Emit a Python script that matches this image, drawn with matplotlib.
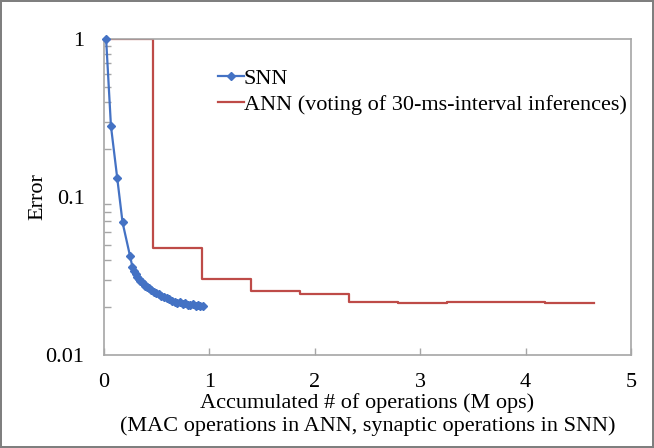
import matplotlib
matplotlib.use("Agg")
import matplotlib.pyplot as plt
from matplotlib.ticker import LogLocator, NullFormatter, FixedLocator, FixedFormatter

# ---- data ----
ann_edges = [0.0, 0.465, 0.93, 1.395, 1.86, 2.325, 2.79, 3.255, 3.72, 4.185, 4.65]
ann_error = [1.0, 0.0473, 0.0303, 0.0254, 0.0243, 0.0217, 0.0214, 0.0217, 0.0217, 0.0212]

snn_ops = [0.02, 0.066, 0.126, 0.176, 0.247, 0.27, 0.285, 0.30, 0.315, 0.33, 0.345,
           0.36, 0.375, 0.39, 0.41, 0.43, 0.45, 0.47, 0.495, 0.52, 0.545, 0.57,
           0.595, 0.62, 0.645, 0.67, 0.695, 0.72, 0.745, 0.77, 0.795, 0.82, 0.845,
           0.87, 0.895, 0.915, 0.935]
snn_error = [1.0, 0.281, 0.131, 0.069, 0.0423, 0.036, 0.034, 0.0325, 0.031, 0.0302, 0.0295,
             0.0288, 0.028, 0.0275, 0.027, 0.0264, 0.0258, 0.0252, 0.0247, 0.0242, 0.0237, 0.0233,
             0.0229, 0.0225, 0.0219, 0.0218, 0.0214, 0.0216, 0.0211, 0.0213, 0.0207, 0.0206, 0.0209,
             0.0204, 0.0206, 0.0203, 0.0205]

x_ticks = [0, 1, 2, 3, 4, 5]
y_ticks = [0.01, 0.1, 1]
y_tick_labels = ["0.01", "0.1", "1"]

plt.rcParams['font.family'] = ['Liberation Serif', 'DejaVu Serif']
FS = 16

fig = plt.figure(figsize=(6.54, 4.48), dpi=100)
fig.patch.set_edgecolor('#7f7f7f')
fig.patch.set_linewidth(1.5)
ax = fig.add_axes([104/654, 1-355/448, (631-104)/654, (355-39)/448])

ax.step(ann_edges, ann_error + [ann_error[-1]], where='post', color='#BE4B48',
        lw=1.6, label='ANN (voting of 30-ms-interval inferences)', zorder=2)
ax.plot(snn_ops, snn_error, color='#4472C4', lw=1.6, marker='D', markersize=3.8,
        label='SNN', zorder=3, clip_on=False)

ax.set_yscale('log')
ax.set_xlim(0, 5)
ax.set_ylim(0.01, 1)
ax.yaxis.set_major_locator(FixedLocator(y_ticks))
ax.yaxis.set_major_formatter(FixedFormatter(y_tick_labels))
ax.yaxis.set_minor_locator(LogLocator(base=10, subs=range(2, 10)))
ax.yaxis.set_minor_formatter(NullFormatter())
ax.set_xticks(x_ticks)
ax.set_xticklabels([str(t) for t in x_ticks])

for s in ax.spines.values():
    s.set_color('#a6a6a6')
    s.set_linewidth(1.2)
ax.tick_params(axis='both', which='both', direction='in', color='#a6a6a6',
               labelsize=FS, width=1)
ax.tick_params(axis='x', which='major', length=5, pad=13)
ax.tick_params(axis='y', which='major', length=0, pad=14)
ax.tick_params(axis='y', which='minor', length=5)

ax.set_ylabel('Error', fontsize=FS)
ax.yaxis.set_label_coords(-0.108, 0.5)
ax.set_xlabel('Accumulated # of operations (M ops)\n(MAC operations in ANN, synaptic operations in SNN)',
              fontsize=FS, labelpad=1, linespacing=1.2)

h, l = ax.get_legend_handles_labels()
leg = ax.legend(h[::-1], l[::-1], loc='upper left', bbox_to_anchor=(0.2163, 0.906),
                frameon=False, fontsize=FS, handlelength=1.15, handletextpad=0.0,
                labelspacing=0.22, borderaxespad=0, borderpad=0)

fig.savefig('out.png', dpi=100)
